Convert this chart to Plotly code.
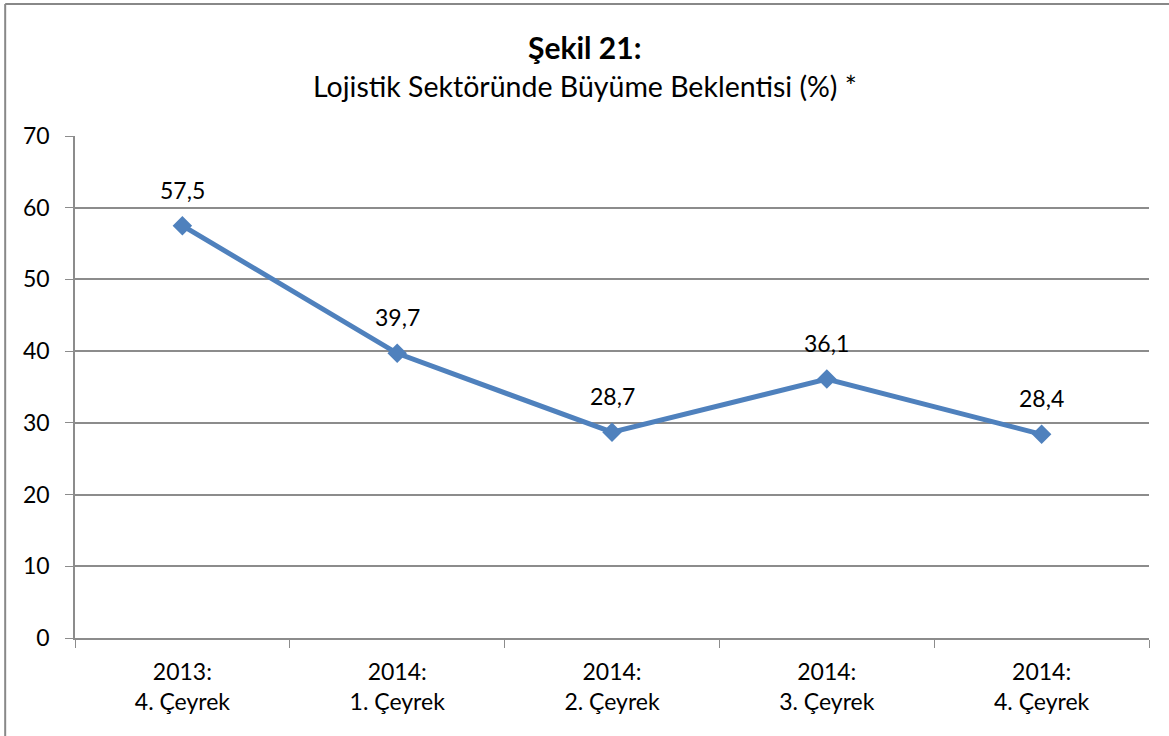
import plotly.graph_objects as go

categories = ["2013:<br>4. Çeyrek", "2014:<br>1. Çeyrek", "2014:<br>2. Çeyrek",
              "2014:<br>3. Çeyrek", "2014:<br>4. Çeyrek"]
values = [57.5, 39.7, 28.7, 36.1, 28.4]
labels = ["57,5", "39,7", "28,7", "36,1", "28,4"]
y_ticks = [0, 10, 20, 30, 40, 50, 60, 70]

FONT = "Lato"
BLUE = "#4F81BD"
GRID = "#8C8C8C"

fig = go.Figure()
fig.add_trace(go.Scatter(
    x=categories, y=values, mode="lines+markers",
    line=dict(color=BLUE, width=5),
    marker=dict(symbol="diamond", size=15, color=BLUE),
    hoverinfo="skip", showlegend=False,
))

for c, v, t in zip(categories, values, labels):
    fig.add_annotation(x=c, y=v, text=t, showarrow=False, yshift=36,
                       font=dict(family=FONT, size=23, color="#000000"))

TITLE_X = 0.4744  # page centre expressed in plot-area fraction
fig.add_annotation(xref="paper", yref="paper", x=TITLE_X, y=1.0, yshift=89, yanchor="middle",
                   text="<b>Şekil 21:</b>", showarrow=False,
                   font=dict(family=FONT, size=30, color="#000000"))
fig.add_annotation(xref="paper", yref="paper", x=TITLE_X, y=1.0, yshift=50, yanchor="middle",
                   text="Lojistik Sektöründe Büyüme Beklentisi (%) *", showarrow=False,
                   font=dict(family=FONT, size=28.5, color="#000000"))

# outer border (top and left edges visible)
fig.add_shape(type="line", xref="paper", yref="paper", x0=-0.065, x1=1.1, y0=1.263, y1=1.263,
              line=dict(color="#888888", width=2))
fig.add_shape(type="line", xref="paper", yref="paper", x0=-0.065, x1=-0.065, y0=-0.3, y1=1.263,
              line=dict(color="#888888", width=2))

fig.update_layout(
    width=1169, height=736,
    margin=dict(l=75, r=20, t=136, b=98, autoexpand=False),
    paper_bgcolor="white", plot_bgcolor="white",
    font=dict(family=FONT, size=23, color="#000000"),
    xaxis=dict(
        type="category", showgrid=False, showline=True, linecolor=GRID, linewidth=1.5,
        ticks="outside", tickson="boundaries", ticklen=8, tickcolor=GRID,
        ticklabelstandoff=13,
        tickfont=dict(family=FONT, size=23), range=[-0.5, 4.5],
    ),
    yaxis=dict(
        range=[0, 70], tickvals=y_ticks, showgrid=True, gridcolor=GRID, gridwidth=1.5,
        showline=True, linecolor=GRID, linewidth=1.5, ticks="outside", ticklen=8,
        ticklabelstandoff=11,
        tickcolor=GRID, tickfont=dict(family=FONT, size=23), zeroline=False,
    ),
)

fig.write_html("out.html", config={"displayModeBar": False},
               post_script="document.body.style.margin='0';")
